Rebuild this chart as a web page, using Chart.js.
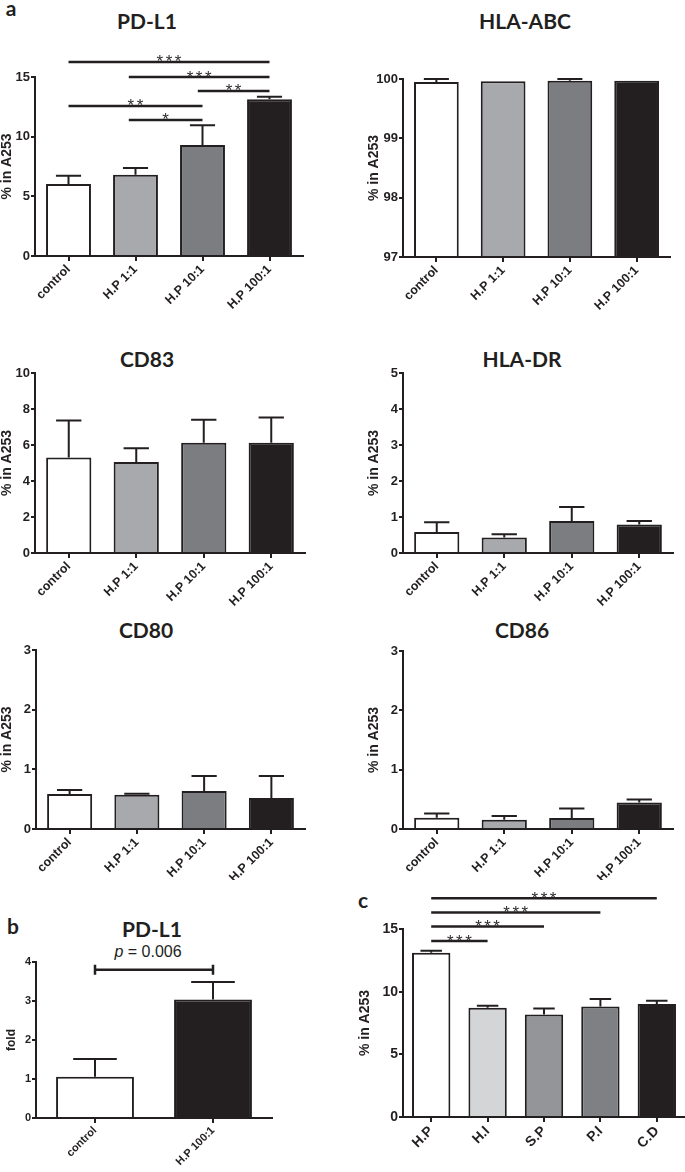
<!DOCTYPE html>
<html>
<head>
<meta charset="utf-8">
<script src="https://cdn.jsdelivr.net/npm/chart.js@4.4.0/dist/chart.umd.min.js"></script>
<style>
  body { margin: 0; background: #fff; }
  #page { position: relative; width: 685px; height: 1172px; overflow: hidden;
          font-family: 'Liberation Sans', Arial, sans-serif; color: #231f20; }
  canvas { position: absolute; }
  .t { position: absolute; transform: translate(-50%, -50%); white-space: nowrap; line-height: 1; }
  .title { font: bold 21px Lato, sans-serif; }
  .letter { font: bold 21px Lato, sans-serif; }
  .pval { font: 16px 'Liberation Sans', Arial, sans-serif; }
</style>
</head>
<body>
<div id="page">
  <div class="t letter" style="left:11px;top:7px">a</div>
  <div class="t title" style="left:147px;top:20px">PD-L1</div>
  <div class="t title" style="left:525px;top:20px">HLA-ABC</div>
  <div class="t title" style="left:147px;top:358px">CD83</div>
  <div class="t title" style="left:522px;top:358px">HLA-DR</div>
  <div class="t title" style="left:146px;top:629px">CD80</div>
  <div class="t title" style="left:522px;top:629px">CD86</div>
  <div class="t letter" style="left:13px;top:925px">b</div>
  <div class="t title" style="left:152px;top:928px">PD-L1</div>
  <div class="t pval" style="left:148px;top:952px"><i>p</i> = 0.006</div>
  <div class="t letter" style="left:363px;top:899px">c</div>
</div>
<script>
const ink = '#231f20';
const tickFont = "'Liberation Sans', Arial, sans-serif";

// a: dose groups
const doseLabels = ['control', 'H.P 1:1', 'H.P 10:1', 'H.P 100:1'];
const doseColors = ['#ffffff', '#a7a9ac', '#7b7d80', '#231f20'];

const pdl1Means = [6.03, 6.81, 9.30, 13.13];
const pdl1Errors = [0.70, 0.57, 1.65, 0.22];
const hlaAbcMeans = [99.95, 99.96, 99.97, 99.97];
const hlaAbcErrors = [0.05, 0, 0.03, 0];
const cd83Means = [5.30, 5.06, 6.13, 6.12];
const cd83Errors = [2.06, 0.76, 1.27, 1.41];
const hlaDrMeans = [0.585, 0.43, 0.89, 0.79];
const hlaDrErrors = [0.27, 0.09, 0.39, 0.10];
const cd80Means = [0.587, 0.575, 0.637, 0.52];
const cd80Errors = [0.067, 0.015, 0.25, 0.368];
const cd86Means = [0.19, 0.156, 0.185, 0.447];
const cd86Errors = [0.07, 0.062, 0.161, 0.05];

// significance bars for PD-L1 (a)
const pdl1Sig = [
  { from: 0, to: 3, at: 16.26, text: '***' },
  { from: 0.9, to: 3, at: 15.0, text: '***' },
  { from: 1.93, to: 3, at: 13.83, text: '**' },
  { from: 0, to: 2, at: 12.57, text: '**' },
  { from: 0.9, to: 2, at: 11.4, text: '*' }
];

// b: fold change
const foldLabels = ['control', 'H.P 100:1'];
const foldColors = ['#ffffff', '#231f20'];
const foldMeans = [1.06, 3.04];
const foldErrors = [0.45, 0.45];
const foldSig = [{ from: 0, to: 1, at: 3.8, caps: true }];

// c: strains
const strainLabels = ['H.P', 'H.I', 'S.P', 'P.I', 'C.D'];
const strainColors = ['#ffffff', '#d4d5d6', '#939598', '#7e8083', '#231f20'];
const strainMeans = [13.1, 8.71, 8.18, 8.82, 9.01];
const strainErrors = [0.17, 0.16, 0.48, 0.59, 0.27];
const strainSig = [
  { from: 0, to: 4, at: 17.46, text: '***' },
  { from: 0, to: 3, at: 16.31, text: '***' },
  { from: 0, to: 2, at: 15.19, text: '***' },
  { from: 0, to: 1, at: 14.04, text: '***' }
];

// error bars (upper only, with cap)
const errorBars = {
  id: 'errorBars',
  afterDatasetsDraw(chart, args, opts) {
    const { ctx, scales: { y } } = chart;
    const vals = chart.data.datasets[0].data;
    ctx.save();
    ctx.strokeStyle = ink;
    ctx.lineWidth = 2;
    chart.getDatasetMeta(0).data.forEach((bar, i) => {
      const e = opts.errors[i];
      if (!e) return;
      const top = y.getPixelForValue(vals[i] + e);
      const half = bar.width * 0.28;
      ctx.beginPath();
      ctx.moveTo(bar.x, bar.y);
      ctx.lineTo(bar.x, top);
      ctx.moveTo(bar.x - half, top);
      ctx.lineTo(bar.x + half, top);
      ctx.stroke();
    });
    ctx.restore();
  }
};

// significance lines with star labels
const sigLines = {
  id: 'sigLines',
  afterDraw(chart, args, opts) {
    const { ctx, scales: { x, y } } = chart;
    ctx.save();
    (opts.lines || []).forEach(l => {
      const x1 = x.getPixelForValue(l.from);
      const x2 = x.getPixelForValue(l.to);
      const yy = y.getPixelForValue(l.at);
      ctx.strokeStyle = ink;
      ctx.lineWidth = 2.5;
      ctx.beginPath();
      ctx.moveTo(x1, yy);
      ctx.lineTo(x2, yy);
      if (l.caps) {
        ctx.moveTo(x1, yy - 5); ctx.lineTo(x1, yy + 5);
        ctx.moveTo(x2, yy - 5); ctx.lineTo(x2, yy + 5);
      }
      ctx.stroke();
      if (l.text) {
        ctx.fillStyle = '#2e2e2e';
        ctx.font = '17px ' + tickFont;
        ctx.letterSpacing = '2.5px';
        ctx.textAlign = 'center';
        ctx.textBaseline = 'alphabetic';
        ctx.fillText(l.text, (x1 + x2) / 2 + 1.2, yy + 5.5);
      }
    });
    ctx.restore();
  }
};

// box = canvas placement, area = where the axes should land on the page
function makeChart(box, area, c) {
  const cv = document.createElement('canvas');
  cv.width = box.w;
  cv.height = box.h;
  cv.style.left = box.x + 'px';
  cv.style.top = box.y + 'px';
  document.getElementById('page').appendChild(cv);

  return new Chart(cv, {
    type: 'bar',
    data: {
      labels: c.labels,
      datasets: [{
        data: c.values,
        backgroundColor: c.colors,
        borderColor: ink,
        borderWidth: 2,
        borderSkipped: 'bottom',
        barPercentage: c.barPct || 0.67,
        categoryPercentage: 1
      }]
    },
    options: {
      responsive: false,
      animation: false,
      devicePixelRatio: 1,
      layout: { padding: { top: area.top - box.y, right: box.x + box.w - area.right, bottom: 0, left: 0 } },
      plugins: {
        legend: { display: false },
        tooltip: { enabled: false },
        errorBars: { errors: c.errors },
        sigLines: { lines: c.sig || [] }
      },
      scales: {
        x: {
          offset: true,
          grid: { display: true, drawOnChartArea: false, offset: false, tickLength: 5, lineWidth: 2, color: ink },
          border: { color: ink, width: 2, z: 1 },
          ticks: {
            color: ink, autoSkip: false, minRotation: 45, maxRotation: 45, padding: 1,
            font: { family: tickFont, weight: 'bold', size: c.xSize || 12.5 }
          },
          afterFit: s => { s.height = box.y + box.h - area.bottom; }
        },
        y: {
          min: c.min, max: c.max,
          grid: { display: true, drawOnChartArea: false, tickLength: 4, lineWidth: 2, color: ink },
          border: { color: ink, width: 2, z: 1 },
          ticks: {
            stepSize: c.step, color: ink, padding: 1,
            font: { family: tickFont, weight: 'bold', size: c.ySize || 13 }
          },
          title: {
            display: true, text: c.yTitle, color: ink, padding: 0,
            font: { family: tickFont, weight: 'bold', size: c.titleSize || 14, lineHeight: 1 }
          },
          afterFit: s => { s.width = area.left - box.x; }
        }
      }
    },
    plugins: [errorBars, sigLines]
  });
}

makeChart({ x: 0, y: 0, w: 330, h: 330 }, { left: 35, right: 303, top: 77, bottom: 256 },
  { labels: doseLabels, values: pdl1Means, errors: pdl1Errors, colors: doseColors,
    min: 0, max: 15, step: 5, yTitle: '% in A253', sig: pdl1Sig });

makeChart({ x: 367, y: 0, w: 318, h: 330 }, { left: 403, right: 670, top: 79, bottom: 257 },
  { labels: doseLabels, values: hlaAbcMeans, errors: hlaAbcErrors, colors: doseColors,
    min: 97, max: 100, step: 1, yTitle: '% in A253' });

makeChart({ x: 0, y: 330, w: 330, h: 300 }, { left: 35, right: 305, top: 373, bottom: 553 },
  { labels: doseLabels, values: cd83Means, errors: cd83Errors, colors: doseColors,
    min: 0, max: 10, step: 2, yTitle: '% in A253' });

makeChart({ x: 367, y: 330, w: 318, h: 300 }, { left: 403, right: 673, top: 373, bottom: 553 },
  { labels: doseLabels, values: hlaDrMeans, errors: hlaDrErrors, colors: doseColors,
    min: 0, max: 5, step: 1, yTitle: '% in A253' });

makeChart({ x: 0, y: 630, w: 330, h: 250 }, { left: 36, right: 305, top: 650, bottom: 829 },
  { labels: doseLabels, values: cd80Means, errors: cd80Errors, colors: doseColors,
    min: 0, max: 3, step: 1, yTitle: '% in A253' });

makeChart({ x: 367, y: 630, w: 318, h: 250 }, { left: 403, right: 673, top: 651, bottom: 829 },
  { labels: doseLabels, values: cd86Means, errors: cd86Errors, colors: doseColors,
    min: 0, max: 3, step: 1, yTitle: '% in A253' });

makeChart({ x: 6, y: 900, w: 300, h: 272 }, { left: 36, right: 272, top: 962, bottom: 1118 },
  { labels: foldLabels, values: foldMeans, errors: foldErrors, colors: foldColors,
    min: 0, max: 4, step: 1, yTitle: 'fold', sig: foldSig, barPct: 0.66,
    xSize: 11, ySize: 11, titleSize: 12 });

makeChart({ x: 358, y: 880, w: 327, h: 292 }, { left: 403, right: 685, top: 929, bottom: 1117 },
  { labels: strainLabels, values: strainMeans, errors: strainErrors, colors: strainColors,
    min: 0, max: 15, step: 5, yTitle: '% in A253', sig: strainSig, barPct: 0.68,
    xSize: 14, ySize: 14 });
</script>
</body>
</html>
